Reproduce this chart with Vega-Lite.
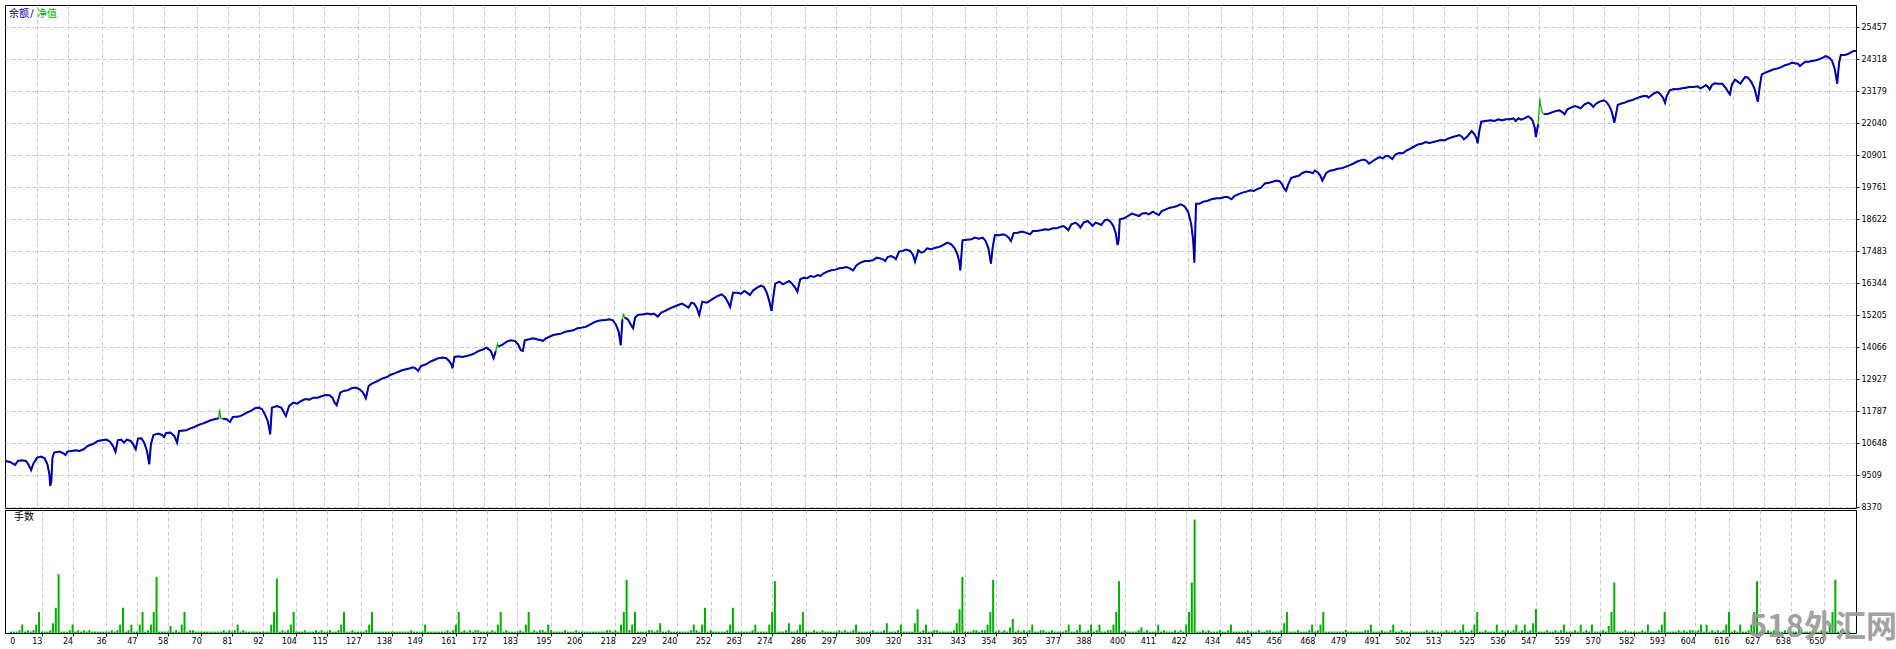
{
"$schema": "https://vega.github.io/schema/vega-lite/v6.json",
"background": "white",
"padding": {"left": 4, "top": 4, "right": 2, "bottom": 0},
"spacing": 2,
"bounds": "flush",
"config": {
  "view": {"stroke": "#000000", "strokeWidth": 1},
  "axis": {"labelFont": "DejaVu Sans", "labelFontSize": 8, "labelColor": "#000000", "tickColor": "#000000", "gridColor": "#c8c8c8", "gridDash": [4, 3], "gridWidth": 1, "domain": false, "title": null, "labelOverlap": false, "tickCount": 200}
},
"datasets": {
"eq": [
{"n":1.7,"b":10020,"e":10020},{"n":3.4,"b":9984,"e":9984},{"n":5.2,"b":9877,"e":9877},{"n":6.2,"b":10020,"e":10020},{"n":7.6,"b":10043,"e":10043},{"n":9.1,"b":10020,"e":10020},{"n":9.9,"b":9901,"e":9901},{"n":10.9,"b":9696,"e":9696},{"n":11.7,"b":9925,"e":9925},{"n":13.1,"b":10138,"e":10138},{"n":14.5,"b":10174,"e":10174},{"n":15.7,"b":10115,"e":10115},{"n":16.7,"b":9901,"e":9901},{"n":17.4,"b":9545,"e":9545},{"n":17.7,"b":9130,"e":9130},{"n":18.1,"b":9308,"e":9308},{"n":18.5,"b":10138,"e":10138},{"n":19.1,"b":10316,"e":10316},{"n":21.0,"b":10352,"e":10352},{"n":22.4,"b":10293,"e":10293},{"n":23.1,"b":10233,"e":10233},{"n":23.8,"b":10352,"e":10352},{"n":25.3,"b":10375,"e":10375},{"n":26.7,"b":10399,"e":10399},{"n":28.1,"b":10375,"e":10375},{"n":29.6,"b":10435,"e":10435},{"n":31.0,"b":10553,"e":10553},{"n":33.2,"b":10637,"e":10637},{"n":34.6,"b":10732,"e":10732},{"n":36.0,"b":10755,"e":10755},{"n":37.7,"b":10779,"e":10779},{"n":38.9,"b":10708,"e":10708},{"n":40.0,"b":10553,"e":10553},{"n":40.9,"b":10340,"e":10340},{"n":41.7,"b":10755,"e":10755},{"n":42.9,"b":10779,"e":10779},{"n":43.9,"b":10672,"e":10672},{"n":44.9,"b":10779,"e":10779},{"n":46.3,"b":10732,"e":10732},{"n":47.2,"b":10613,"e":10613},{"n":48.1,"b":10435,"e":10435},{"n":48.9,"b":10815,"e":10815},{"n":50.1,"b":10826,"e":10826},{"n":51.1,"b":10672,"e":10672},{"n":52.1,"b":10375,"e":10375},{"n":52.6,"b":10079,"e":10079},{"n":52.9,"b":9901,"e":9901},{"n":53.5,"b":10613,"e":10613},{"n":54.4,"b":10945,"e":10945},{"n":56.1,"b":10992,"e":10992},{"n":57.5,"b":10945,"e":10945},{"n":58.2,"b":10874,"e":10874},{"n":58.9,"b":11016,"e":11016},{"n":60.4,"b":11028,"e":11028},{"n":61.8,"b":10910,"e":10910},{"n":62.8,"b":10672,"e":10672},{"n":63.5,"b":11087,"e":11087},{"n":66.1,"b":11111,"e":11111},{"n":67.5,"b":11182,"e":11182},{"n":69.0,"b":11230,"e":11230},{"n":70.4,"b":11301,"e":11301},{"n":71.8,"b":11348,"e":11348},{"n":73.3,"b":11408,"e":11408},{"n":74.7,"b":11467,"e":11467},{"n":76.1,"b":11503,"e":11503},{"n":77.6,"b":11539,"e":11539},{"n":77.9,"e":11860},{"n":78.3,"e":11533},{"n":79.0,"b":11527,"e":11527},{"n":80.4,"b":11503,"e":11503},{"n":81.6,"b":11408,"e":11408},{"n":82.6,"b":11586,"e":11586},{"n":84.7,"b":11598,"e":11598},{"n":86.2,"b":11657,"e":11657},{"n":87.6,"b":11740,"e":11740},{"n":89.0,"b":11800,"e":11800},{"n":90.5,"b":11894,"e":11894},{"n":91.9,"b":11918,"e":11918},{"n":93.0,"b":11859,"e":11859},{"n":94.0,"b":11681,"e":11681},{"n":95.0,"b":11443,"e":11443},{"n":95.5,"b":11206,"e":11206},{"n":95.9,"b":10969,"e":10969},{"n":96.5,"b":11918,"e":11918},{"n":98.3,"b":11977,"e":11977},{"n":99.8,"b":11918,"e":11918},{"n":100.5,"b":11800,"e":11800},{"n":101.5,"b":11622,"e":11622},{"n":102.6,"b":11977,"e":11977},{"n":104.1,"b":12096,"e":12096},{"n":105.5,"b":12060,"e":12060},{"n":106.9,"b":12155,"e":12155},{"n":108.4,"b":12226,"e":12226},{"n":109.8,"b":12202,"e":12202},{"n":111.2,"b":12274,"e":12274},{"n":112.7,"b":12274,"e":12274},{"n":114.1,"b":12321,"e":12321},{"n":115.5,"b":12369,"e":12369},{"n":117.0,"b":12357,"e":12357},{"n":118.0,"b":12274,"e":12274},{"n":118.8,"b":12096,"e":12096},{"n":119.5,"b":12001,"e":12001},{"n":120.8,"b":12452,"e":12452},{"n":122.0,"b":12511,"e":12511},{"n":123.4,"b":12535,"e":12535},{"n":124.8,"b":12606,"e":12606},{"n":126.3,"b":12630,"e":12630},{"n":127.7,"b":12571,"e":12571},{"n":128.9,"b":12452,"e":12452},{"n":129.9,"b":12250,"e":12250},{"n":130.9,"b":12689,"e":12689},{"n":132.0,"b":12772,"e":12772},{"n":134.2,"b":12867,"e":12867},{"n":135.6,"b":12950,"e":12950},{"n":137.5,"b":13010,"e":13010},{"n":138.5,"b":13081,"e":13081},{"n":139.9,"b":13128,"e":13128},{"n":141.3,"b":13188,"e":13188},{"n":142.8,"b":13247,"e":13247},{"n":144.2,"b":13283,"e":13283},{"n":145.6,"b":13318,"e":13318},{"n":146.6,"b":13354,"e":13354},{"n":147.5,"b":13318,"e":13318},{"n":148.5,"b":13223,"e":13223},{"n":149.5,"b":13401,"e":13401},{"n":151.3,"b":13461,"e":13461},{"n":152.8,"b":13556,"e":13556},{"n":154.2,"b":13615,"e":13615},{"n":155.6,"b":13674,"e":13674},{"n":157.1,"b":13698,"e":13698},{"n":158.5,"b":13674,"e":13674},{"n":159.5,"b":13579,"e":13579},{"n":160.4,"b":13437,"e":13437},{"n":160.7,"b":13318,"e":13318},{"n":161.4,"b":13722,"e":13722},{"n":162.8,"b":13745,"e":13745},{"n":164.2,"b":13722,"e":13722},{"n":165.7,"b":13757,"e":13757},{"n":167.1,"b":13793,"e":13793},{"n":168.5,"b":13852,"e":13852},{"n":170.0,"b":13935,"e":13935},{"n":171.4,"b":13983,"e":13983},{"n":172.8,"b":14054,"e":14054},{"n":174.3,"b":13935,"e":13935},{"n":175.3,"b":13674,"e":13674},{"n":176.1,"b":13935,"e":13935},{"n":176.7,"e":14190},{"n":177.1,"b":14089,"e":14089},{"n":178.6,"b":14172,"e":14172},{"n":180.0,"b":14267,"e":14267},{"n":181.4,"b":14315,"e":14315},{"n":182.9,"b":14291,"e":14291},{"n":184.0,"b":14172,"e":14172},{"n":185.0,"b":13959,"e":13959},{"n":185.7,"b":13935,"e":13935},{"n":186.4,"b":14315,"e":14315},{"n":187.9,"b":14350,"e":14350},{"n":189.3,"b":14386,"e":14386},{"n":190.7,"b":14350,"e":14350},{"n":192.2,"b":14315,"e":14315},{"n":192.9,"b":14291,"e":14291},{"n":193.9,"b":14386,"e":14386},{"n":195.0,"b":14433,"e":14433},{"n":196.5,"b":14504,"e":14504},{"n":197.9,"b":14528,"e":14528},{"n":199.3,"b":14552,"e":14552},{"n":200.8,"b":14623,"e":14623},{"n":202.2,"b":14647,"e":14647},{"n":203.6,"b":14671,"e":14671},{"n":205.1,"b":14742,"e":14742},{"n":206.5,"b":14766,"e":14766},{"n":207.9,"b":14789,"e":14789},{"n":209.4,"b":14861,"e":14861},{"n":210.8,"b":14944,"e":14944},{"n":212.2,"b":15003,"e":15003},{"n":213.7,"b":15027,"e":15027},{"n":215.1,"b":15039,"e":15039},{"n":216.5,"b":15062,"e":15062},{"n":217.7,"b":15027,"e":15027},{"n":218.7,"b":14884,"e":14884},{"n":219.7,"b":14647,"e":14647},{"n":220.3,"b":14291,"e":14291},{"n":220.5,"b":14137,"e":14137},{"n":221.1,"b":15062,"e":15062},{"n":221.5,"e":15264},{"n":221.9,"b":15122,"e":15122},{"n":223.0,"b":15062,"e":15062},{"n":224.0,"b":14884,"e":14884},
{"n":224.9,"b":14742,"e":14742},{"n":225.6,"b":15122,"e":15122},{"n":226.6,"b":15216,"e":15216},{"n":228.4,"b":15240,"e":15240},{"n":229.9,"b":15264,"e":15264},{"n":231.3,"b":15240,"e":15240},{"n":232.3,"b":15264,"e":15264},{"n":233.7,"b":15157,"e":15157},{"n":234.9,"b":15300,"e":15300},{"n":236.3,"b":15359,"e":15359},{"n":237.8,"b":15442,"e":15442},{"n":239.2,"b":15501,"e":15501},{"n":240.9,"b":15572,"e":15572},{"n":242.3,"b":15620,"e":15620},{"n":243.5,"b":15549,"e":15549},{"n":244.6,"b":15477,"e":15477},{"n":245.6,"b":15655,"e":15655},{"n":246.6,"b":15620,"e":15620},{"n":247.5,"b":15477,"e":15477},{"n":248.4,"b":15216,"e":15216},{"n":249.5,"b":15691,"e":15691},{"n":251.0,"b":15655,"e":15655},{"n":252.1,"b":15715,"e":15715},{"n":253.5,"b":15810,"e":15810},{"n":255.0,"b":15893,"e":15893},{"n":256.4,"b":15952,"e":15952},{"n":257.5,"b":15857,"e":15857},{"n":258.5,"b":15691,"e":15691},{"n":259.4,"b":15501,"e":15501},{"n":260.4,"b":16011,"e":16011},{"n":261.8,"b":16011,"e":16011},{"n":263.3,"b":15976,"e":15976},{"n":264.4,"b":16071,"e":16071},{"n":265.4,"b":16011,"e":16011},{"n":266.4,"b":15928,"e":15928},{"n":267.6,"b":16094,"e":16094},{"n":269.0,"b":16189,"e":16189},{"n":270.4,"b":16261,"e":16261},{"n":271.4,"b":16213,"e":16213},{"n":272.4,"b":16011,"e":16011},{"n":273.3,"b":15715,"e":15715},{"n":274.1,"b":15359,"e":15359},{"n":274.7,"b":15833,"e":15833},{"n":275.4,"b":16332,"e":16332},{"n":276.9,"b":16403,"e":16403},{"n":278.2,"b":16308,"e":16308},{"n":279.3,"b":16367,"e":16367},{"n":280.4,"b":16427,"e":16427},{"n":281.4,"b":16332,"e":16332},{"n":282.5,"b":16189,"e":16189},{"n":283.3,"b":16047,"e":16047},{"n":284.3,"b":16486,"e":16486},{"n":285.7,"b":16545,"e":16545},{"n":286.8,"b":16522,"e":16522},{"n":287.9,"b":16605,"e":16605},{"n":289.3,"b":16569,"e":16569},{"n":290.5,"b":16640,"e":16640},{"n":291.5,"b":16605,"e":16605},{"n":292.5,"b":16688,"e":16688},{"n":293.9,"b":16759,"e":16759},{"n":295.3,"b":16806,"e":16806},{"n":296.8,"b":16830,"e":16830},{"n":298.2,"b":16878,"e":16878},{"n":299.6,"b":16901,"e":16901},{"n":300.8,"b":16925,"e":16925},{"n":301.9,"b":16878,"e":16878},{"n":303.1,"b":16806,"e":16806},{"n":304.4,"b":16996,"e":16996},{"n":305.8,"b":17079,"e":17079},{"n":307.2,"b":17139,"e":17139},{"n":308.7,"b":17139,"e":17139},{"n":310.1,"b":17162,"e":17162},{"n":311.5,"b":17257,"e":17257},{"n":312.5,"b":17234,"e":17234},{"n":313.7,"b":17198,"e":17198},{"n":314.5,"b":17139,"e":17139},{"n":315.4,"b":17281,"e":17281},{"n":316.6,"b":17317,"e":17317},{"n":317.7,"b":17257,"e":17257},{"n":318.3,"b":17198,"e":17198},{"n":319.4,"b":17471,"e":17471},{"n":320.6,"b":17495,"e":17495},{"n":322.0,"b":17542,"e":17542},{"n":323.4,"b":17495,"e":17495},{"n":324.4,"b":17352,"e":17352},{"n":325.1,"b":17115,"e":17115},{"n":326.3,"b":17518,"e":17518},{"n":327.3,"b":17435,"e":17435},{"n":328.3,"b":17471,"e":17471},{"n":329.4,"b":17590,"e":17590},{"n":330.9,"b":17554,"e":17554},{"n":332.3,"b":17613,"e":17613},{"n":333.7,"b":17637,"e":17637},{"n":335.2,"b":17708,"e":17708},{"n":336.6,"b":17791,"e":17791},{"n":338.0,"b":17732,"e":17732},{"n":339.2,"b":17590,"e":17590},{"n":340.2,"b":17376,"e":17376},{"n":340.9,"b":17079,"e":17079},{"n":341.2,"b":16806,"e":16806},{"n":342.0,"b":17874,"e":17874},{"n":343.5,"b":17898,"e":17898},{"n":345.2,"b":17910,"e":17910},{"n":346.3,"b":17969,"e":17969},{"n":347.8,"b":17934,"e":17934},{"n":349.2,"b":17969,"e":17969},{"n":350.2,"b":17851,"e":17851},{"n":351.2,"b":17590,"e":17590},{"n":352.1,"b":17044,"e":17044},{"n":352.7,"b":17613,"e":17613},{"n":353.5,"b":18064,"e":18064},{"n":355.0,"b":18052,"e":18052},{"n":356.4,"b":18088,"e":18088},{"n":357.4,"b":18052,"e":18052},{"n":358.4,"b":17969,"e":17969},{"n":359.2,"b":17851,"e":17851},{"n":360.2,"b":18135,"e":18135},{"n":361.7,"b":18147,"e":18147},{"n":363.1,"b":18183,"e":18183},{"n":364.5,"b":18147,"e":18147},{"n":366.0,"b":18088,"e":18088},{"n":367.0,"b":18206,"e":18206},{"n":368.4,"b":18206,"e":18206},{"n":369.8,"b":18230,"e":18230},{"n":371.3,"b":18266,"e":18266},{"n":372.7,"b":18254,"e":18254},{"n":374.1,"b":18301,"e":18301},{"n":375.3,"b":18301,"e":18301},{"n":376.7,"b":18349,"e":18349},{"n":377.9,"b":18384,"e":18384},{"n":378.9,"b":18301,"e":18301},{"n":379.6,"b":18230,"e":18230},{"n":380.7,"b":18444,"e":18444},{"n":382.2,"b":18503,"e":18503},{"n":383.2,"b":18420,"e":18420},{"n":383.9,"b":18325,"e":18325},{"n":385.0,"b":18503,"e":18503},{"n":386.5,"b":18562,"e":18562},{"n":387.5,"b":18467,"e":18467},{"n":388.2,"b":18384,"e":18384},{"n":389.3,"b":18503,"e":18503},{"n":390.3,"b":18467,"e":18467},{"n":391.3,"b":18420,"e":18420},{"n":392.5,"b":18586,"e":18586},{"n":393.6,"b":18610,"e":18610},{"n":394.6,"b":18539,"e":18539},{"n":395.6,"b":18384,"e":18384},{"n":396.5,"b":18112,"e":18112},{"n":397.1,"b":17708,"e":17708},{"n":397.5,"b":17874,"e":17874},{"n":397.9,"b":18622,"e":18622},{"n":399.4,"b":18657,"e":18657},{"n":400.8,"b":18740,"e":18740},{"n":402.2,"b":18823,"e":18823},{"n":403.7,"b":18776,"e":18776},{"n":404.7,"b":18740,"e":18740},{"n":405.7,"b":18823,"e":18823},{"n":407.1,"b":18847,"e":18847},{"n":408.2,"b":18800,"e":18800},{"n":409.7,"b":18895,"e":18895},{"n":410.8,"b":18823,"e":18823},{"n":411.8,"b":18776,"e":18776},{"n":412.8,"b":18918,"e":18918},{"n":414.3,"b":18978,"e":18978},{"n":415.7,"b":19037,"e":19037},{"n":417.1,"b":19061,"e":19061},{"n":418.3,"b":19096,"e":19096},{"n":419.3,"b":19156,"e":19156},{"n":420.1,"b":19132,"e":19132},{"n":421.1,"b":19061,"e":19061},{"n":422.3,"b":18859,"e":18859},{"n":423.3,"b":18444,"e":18444},{"n":424.0,"b":17851,"e":17851},{"n":424.4,"b":17079,"e":17079},{"n":425.0,"b":19179,"e":19179},{"n":426.2,"b":19179,"e":19179},{"n":427.6,"b":19251,"e":19251},{"n":429.0,"b":19274,"e":19274},{"n":430.4,"b":19334,"e":19334},{"n":432.3,"b":19369,"e":19369},{"n":433.7,"b":19369,"e":19369},{"n":435.2,"b":19417,"e":19417},{"n":436.3,"b":19417,"e":19417},{"n":437.6,"b":19334,"e":19334},{"n":438.6,"b":19452,"e":19452},{"n":440.0,"b":19512,"e":19512},{"n":441.5,"b":19571,"e":19571},{"n":442.9,"b":19607,"e":19607},{"n":444.3,"b":19654,"e":19654},{"n":445.5,"b":19630,"e":19630},{"n":446.6,"b":19690,"e":19690},{"n":448.1,"b":19749,"e":19749},
{"n":449.5,"b":19900,"e":19900},{"n":450.9,"b":19920,"e":19920},{"n":452.2,"b":19960,"e":19960},{"n":453.6,"b":20000,"e":20000},{"n":454.7,"b":19980,"e":19980},{"n":455.6,"b":19870,"e":19870},{"n":456.3,"b":19720,"e":19720},{"n":457.0,"b":19640,"e":19640},{"n":457.7,"b":19850,"e":19850},{"n":458.8,"b":20090,"e":20090},{"n":460.1,"b":20140,"e":20140},{"n":461.5,"b":20170,"e":20170},{"n":462.8,"b":20270,"e":20270},{"n":464.2,"b":20320,"e":20320},{"n":465.6,"b":20300,"e":20300},{"n":466.5,"b":20260,"e":20260},{"n":467.2,"b":20360,"e":20360},{"n":468.3,"b":20290,"e":20290},{"n":469.2,"b":20170,"e":20170},{"n":469.9,"b":20000,"e":20000},{"n":471.3,"b":20270,"e":20270},{"n":472.6,"b":20350,"e":20350},{"n":474.0,"b":20380,"e":20380},{"n":475.3,"b":20420,"e":20420},{"n":476.7,"b":20440,"e":20440},{"n":478.1,"b":20490,"e":20490},{"n":479.4,"b":20540,"e":20540},{"n":480.8,"b":20600,"e":20600},{"n":482.1,"b":20670,"e":20670},{"n":483.5,"b":20720,"e":20720},{"n":484.6,"b":20750,"e":20750},{"n":485.5,"b":20715,"e":20715},{"n":486.5,"b":20600,"e":20600},{"n":487.3,"b":20660,"e":20660},{"n":488.3,"b":20725,"e":20725},{"n":489.2,"b":20785,"e":20785},{"n":490.3,"b":20835,"e":20835},{"n":491.4,"b":20790,"e":20790},{"n":492.4,"b":20875,"e":20875},{"n":493.3,"b":20880,"e":20880},{"n":494.1,"b":20820,"e":20820},{"n":494.8,"b":20765,"e":20765},{"n":495.8,"b":20920,"e":20920},{"n":497.1,"b":20980,"e":20980},{"n":498.5,"b":20972,"e":20972},{"n":499.8,"b":21068,"e":21068},{"n":501.2,"b":21142,"e":21142},{"n":502.6,"b":21214,"e":21214},{"n":503.9,"b":21286,"e":21286},{"n":505.3,"b":21311,"e":21311},{"n":506.6,"b":21371,"e":21371},{"n":508.0,"b":21336,"e":21336},{"n":509.4,"b":21373,"e":21373},{"n":510.7,"b":21410,"e":21410},{"n":512.1,"b":21445,"e":21445},{"n":513.4,"b":21433,"e":21433},{"n":514.8,"b":21504,"e":21504},{"n":516.2,"b":21552,"e":21552},{"n":517.5,"b":21588,"e":21588},{"n":518.6,"b":21623,"e":21623},{"n":519.6,"b":21552,"e":21552},{"n":520.2,"b":21469,"e":21469},{"n":520.9,"b":21528,"e":21528},{"n":521.6,"b":21588,"e":21588},{"n":523.0,"b":21766,"e":21766},{"n":524.0,"b":21647,"e":21647},{"n":524.7,"b":21504,"e":21504},{"n":525.1,"b":21327,"e":21327},{"n":525.7,"b":21766,"e":21766},{"n":526.4,"b":22098,"e":22098},{"n":527.7,"b":22122,"e":22122},{"n":529.8,"b":22145,"e":22145},{"n":531.1,"b":22122,"e":22122},{"n":532.5,"b":22181,"e":22181},{"n":533.8,"b":22145,"e":22145},{"n":535.2,"b":22181,"e":22181},{"n":536.6,"b":22181,"e":22181},{"n":537.9,"b":22217,"e":22217},{"n":538.6,"b":22122,"e":22122},{"n":539.6,"b":22217,"e":22217},{"n":540.6,"b":22169,"e":22169},{"n":541.7,"b":22217,"e":22217},{"n":543.1,"b":22288,"e":22288},{"n":544.0,"b":22217,"e":22217},{"n":544.7,"b":22122,"e":22122},{"n":545.4,"b":21884,"e":21884},{"n":545.8,"b":21552,"e":21552},{"n":546.6,"b":22003,"e":22003},{"n":547.0,"e":22600},{"n":547.2,"e":22928},{"n":547.4,"b":22359,"e":22700},{"n":548.1,"e":22430},{"n":548.8,"b":22359,"e":22359},{"n":550.2,"b":22383,"e":22383},{"n":551.5,"b":22430,"e":22430},{"n":552.9,"b":22477,"e":22477},{"n":554.2,"b":22501,"e":22501},{"n":555.3,"b":22430,"e":22430},{"n":556.0,"b":22359,"e":22359},{"n":557.0,"b":22537,"e":22537},{"n":558.3,"b":22596,"e":22596},{"n":559.7,"b":22655,"e":22655},{"n":560.8,"b":22620,"e":22620},{"n":561.7,"b":22572,"e":22572},{"n":563.1,"b":22715,"e":22715},{"n":564.5,"b":22774,"e":22774},{"n":565.4,"b":22715,"e":22715},{"n":566.2,"b":22620,"e":22620},{"n":567.2,"b":22738,"e":22738},{"n":568.5,"b":22810,"e":22810},{"n":569.9,"b":22857,"e":22857},{"n":570.8,"b":22810,"e":22810},{"n":571.9,"b":22655,"e":22655},{"n":572.7,"b":22477,"e":22477},{"n":573.3,"b":22240,"e":22240},{"n":573.7,"b":22062,"e":22062},{"n":574.4,"b":22418,"e":22418},{"n":574.9,"b":22691,"e":22691},{"n":576.0,"b":22738,"e":22738},{"n":577.4,"b":22774,"e":22774},{"n":578.7,"b":22833,"e":22833},{"n":580.1,"b":22869,"e":22869},{"n":581.5,"b":22928,"e":22928},{"n":582.8,"b":22976,"e":22976},{"n":584.2,"b":23011,"e":23011},{"n":585.3,"b":23011,"e":23011},{"n":585.8,"b":22952,"e":22952},{"n":586.6,"b":23011,"e":23011},{"n":587.6,"b":23094,"e":23094},{"n":588.9,"b":23154,"e":23154},{"n":589.9,"b":23094,"e":23094},{"n":591.0,"b":22952,"e":22952},{"n":591.7,"b":22774,"e":22774},{"n":592.3,"b":23011,"e":23011},{"n":593.4,"b":23213,"e":23213},{"n":594.8,"b":23261,"e":23261},{"n":596.1,"b":23249,"e":23249},{"n":597.8,"b":23284,"e":23284},{"n":599.1,"b":23308,"e":23308},{"n":600.5,"b":23332,"e":23332},{"n":601.9,"b":23332,"e":23332},{"n":603.2,"b":23355,"e":23355},{"n":604.3,"b":23284,"e":23284},{"n":605.3,"b":23332,"e":23332},{"n":606.2,"b":23403,"e":23403},{"n":607.0,"b":23332,"e":23332},{"n":607.6,"b":23249,"e":23249},{"n":608.4,"b":23403,"e":23403},{"n":609.3,"b":23462,"e":23462},{"n":610.7,"b":23450,"e":23450},{"n":612.1,"b":23450,"e":23450},{"n":612.7,"b":23367,"e":23367},{"n":613.4,"b":23284,"e":23284},{"n":614.1,"b":23166,"e":23166},{"n":614.8,"b":23071,"e":23071},{"n":615.5,"b":23427,"e":23427},{"n":616.6,"b":23593,"e":23593},{"n":617.6,"b":23522,"e":23522},{"n":618.5,"b":23450,"e":23450},{"n":619.3,"b":23569,"e":23569},{"n":620.2,"b":23688,"e":23688},{"n":621.2,"b":23664,"e":23664},{"n":622.3,"b":23522,"e":23522},{"n":623.4,"b":23308,"e":23308},{"n":624.2,"b":23011,"e":23011},{"n":624.7,"b":22810,"e":22810},{"n":625.4,"b":23367,"e":23367},{"n":626.1,"b":23783,"e":23783},{"n":627.4,"b":23842,"e":23842},{"n":628.8,"b":23901,"e":23901},{"n":630.4,"b":23961,"e":23961},{"n":631.8,"b":23996,"e":23996},{"n":633.1,"b":24044,"e":24044},{"n":634.2,"b":24103,"e":24103},{"n":635.6,"b":24139,"e":24139},{"n":636.9,"b":24198,"e":24198},{"n":637.9,"b":24174,"e":24174},{"n":638.9,"b":24162,"e":24162},{"n":639.7,"b":24079,"e":24079},{"n":640.6,"b":24162,"e":24162},{"n":641.6,"b":24233,"e":24233},{"n":642.7,"b":24233,"e":24233},{"n":644.0,"b":24257,"e":24257},{"n":645.4,"b":24281,"e":24281},{"n":646.7,"b":24328,"e":24328},{"n":647.8,"b":24376,"e":24376},{"n":648.8,"b":24435,"e":24435},{"n":649.5,"b":24400,"e":24400},{"n":650.3,"b":24352,"e":24352},{"n":651.1,"b":24257,"e":24257},{"n":651.9,"b":24020,"e":24020},{"n":652.5,"b":23723,"e":23723},{"n":652.9,"b":23450,"e":23450},{"n":653.6,"b":24198,"e":24198},{"n":654.2,"b":24471,"e":24471},{"n":655.6,"b":24471,"e":24471},{"n":656.5,"b":24495,"e":24495},{"n":657.6,"b":24554,"e":24554},{"n":658.7,"b":24613,"e":24613},{"n":659.6,"b":24613,"e":24613}
],
"lots": [
{"n":2,"l":0.01},{"n":3,"l":0.01},{"n":4,"l":0.01},{"n":5,"l":0.02},{"n":6,"l":0.06},{"n":7,"l":0.01},{"n":8,"l":0.02},{"n":9,"l":0.01},{"n":10,"l":0.02},{"n":11,"l":0.06},{"n":12,"l":0.15},{"n":13,"l":0.01},{"n":14,"l":0.01},{"n":15,"l":0.01},{"n":16,"l":0.02},{"n":17,"l":0.07},{"n":18,"l":0.18},{"n":19,"l":0.42},{"n":20,"l":0.01},{"n":21,"l":0.01},{"n":22,"l":0.01},{"n":23,"l":0.02},{"n":24,"l":0.06},{"n":25,"l":0.01},{"n":26,"l":0.02},{"n":27,"l":0.01},{"n":28,"l":0.02},{"n":29,"l":0.01},{"n":30,"l":0.02},{"n":31,"l":0.01},{"n":32,"l":0.01},{"n":33,"l":0.01},{"n":34,"l":0.01},{"n":35,"l":0.01},{"n":36,"l":0.01},{"n":37,"l":0.01},{"n":38,"l":0.02},{"n":39,"l":0.01},{"n":40,"l":0.02},{"n":41,"l":0.06},{"n":42,"l":0.18},{"n":43,"l":0.01},{"n":44,"l":0.02},{"n":45,"l":0.06},{"n":46,"l":0.01},{"n":47,"l":0.01},{"n":48,"l":0.06},{"n":49,"l":0.15},{"n":50,"l":0.01},{"n":51,"l":0.02},{"n":52,"l":0.06},{"n":53,"l":0.15},{"n":54,"l":0.40},{"n":55,"l":0.01},{"n":56,"l":0.01},{"n":57,"l":0.01},{"n":58,"l":0.01},{"n":59,"l":0.05},{"n":60,"l":0.01},{"n":61,"l":0.02},{"n":62,"l":0.01},{"n":63,"l":0.06},{"n":64,"l":0.15},{"n":65,"l":0.01},{"n":66,"l":0.02},{"n":67,"l":0.02},{"n":68,"l":0.01},{"n":69,"l":0.01},{"n":70,"l":0.01},{"n":71,"l":0.01},{"n":72,"l":0.01},{"n":73,"l":0.01},{"n":74,"l":0.01},{"n":75,"l":0.01},{"n":76,"l":0.01},{"n":77,"l":0.01},{"n":78,"l":0.02},{"n":79,"l":0.01},{"n":80,"l":0.02},{"n":81,"l":0.01},{"n":82,"l":0.02},{"n":83,"l":0.06},{"n":84,"l":0.01},{"n":85,"l":0.02},{"n":86,"l":0.01},{"n":87,"l":0.01},{"n":88,"l":0.01},{"n":89,"l":0.01},{"n":90,"l":0.01},{"n":91,"l":0.01},{"n":92,"l":0.01},{"n":93,"l":0.01},{"n":94,"l":0.01},{"n":95,"l":0.06},{"n":96,"l":0.15},{"n":97,"l":0.39},{"n":98,"l":0.01},{"n":99,"l":0.02},{"n":100,"l":0.01},{"n":101,"l":0.02},{"n":102,"l":0.06},{"n":103,"l":0.15},{"n":104,"l":0.01},{"n":105,"l":0.01},{"n":106,"l":0.01},{"n":107,"l":0.02},{"n":108,"l":0.01},{"n":109,"l":0.01},{"n":110,"l":0.01},{"n":111,"l":0.02},{"n":112,"l":0.01},{"n":113,"l":0.02},{"n":114,"l":0.01},{"n":115,"l":0.01},{"n":116,"l":0.02},{"n":117,"l":0.01},{"n":118,"l":0.01},{"n":119,"l":0.02},{"n":120,"l":0.06},{"n":121,"l":0.15},{"n":122,"l":0.01},{"n":123,"l":0.01},{"n":124,"l":0.02},{"n":125,"l":0.01},{"n":126,"l":0.01},{"n":127,"l":0.01},{"n":128,"l":0.01},{"n":129,"l":0.02},{"n":130,"l":0.06},{"n":131,"l":0.15},{"n":132,"l":0.01},{"n":133,"l":0.01},{"n":134,"l":0.01},{"n":135,"l":0.01},{"n":136,"l":0.01},{"n":137,"l":0.01},{"n":138,"l":0.01},{"n":139,"l":0.01},{"n":140,"l":0.01},{"n":141,"l":0.01},{"n":142,"l":0.01},{"n":143,"l":0.01},{"n":144,"l":0.01},{"n":145,"l":0.02},{"n":146,"l":0.01},{"n":147,"l":0.01},{"n":148,"l":0.01},{"n":149,"l":0.01},{"n":150,"l":0.06},{"n":151,"l":0.01},{"n":152,"l":0.01},{"n":153,"l":0.01},{"n":154,"l":0.01},{"n":155,"l":0.01},{"n":156,"l":0.01},{"n":157,"l":0.01},{"n":158,"l":0.02},{"n":159,"l":0.01},{"n":160,"l":0.02},{"n":161,"l":0.06},{"n":162,"l":0.15},{"n":163,"l":0.01},{"n":164,"l":0.02},{"n":165,"l":0.01},{"n":166,"l":0.02},{"n":167,"l":0.01},{"n":168,"l":0.02},{"n":169,"l":0.02},{"n":170,"l":0.01},{"n":171,"l":0.01},{"n":172,"l":0.01},{"n":173,"l":0.01},{"n":174,"l":0.02},{"n":175,"l":0.01},{"n":176,"l":0.06},{"n":177,"l":0.15},{"n":178,"l":0.01},{"n":179,"l":0.02},{"n":180,"l":0.01},{"n":181,"l":0.01},{"n":182,"l":0.01},{"n":183,"l":0.01},{"n":184,"l":0.02},{"n":185,"l":0.01},{"n":186,"l":0.06},{"n":187,"l":0.15},{"n":188,"l":0.01},{"n":189,"l":0.02},{"n":190,"l":0.01},{"n":191,"l":0.02},{"n":192,"l":0.02},{"n":193,"l":0.01},{"n":194,"l":0.06},{"n":195,"l":0.02},{"n":196,"l":0.01},{"n":197,"l":0.01},{"n":198,"l":0.01},{"n":199,"l":0.01},{"n":200,"l":0.02},{"n":201,"l":0.01},{"n":202,"l":0.01},{"n":203,"l":0.01},{"n":204,"l":0.02},{"n":205,"l":0.01},{"n":206,"l":0.01},{"n":207,"l":0.01},{"n":208,"l":0.01},{"n":209,"l":0.01},{"n":210,"l":0.01},{"n":211,"l":0.01},{"n":212,"l":0.01},{"n":213,"l":0.01},{"n":214,"l":0.01},{"n":215,"l":0.02},{"n":216,"l":0.02},{"n":217,"l":0.01},{"n":218,"l":0.02},{"n":219,"l":0.01},{"n":220,"l":0.06},{"n":221,"l":0.15},{"n":222,"l":0.38},{"n":223,"l":0.02},{"n":224,"l":0.06},{"n":225,"l":0.15},{"n":226,"l":0.01},{"n":227,"l":0.01},{"n":228,"l":0.01},{"n":229,"l":0.01},{"n":230,"l":0.02},{"n":231,"l":0.02},{"n":232,"l":0.01},{"n":233,"l":0.02},{"n":234,"l":0.07},{"n":235,"l":0.01},{"n":236,"l":0.01},{"n":237,"l":0.02},{"n":238,"l":0.01},{"n":239,"l":0.01},{"n":240,"l":0.01},{"n":241,"l":0.01},{"n":242,"l":0.01},{"n":243,"l":0.01},{"n":244,"l":0.01},{"n":245,"l":0.02},{"n":246,"l":0.06},{"n":247,"l":0.02},{"n":248,"l":0.01},{"n":249,"l":0.06},{"n":250,"l":0.18},{"n":251,"l":0.01},{"n":252,"l":0.02},{"n":253,"l":0.01},{"n":254,"l":0.01},{"n":255,"l":0.01},{"n":256,"l":0.01},{"n":257,"l":0.01},{"n":258,"l":0.02},{"n":259,"l":0.06},{"n":260,"l":0.18},{"n":261,"l":0.01},{"n":262,"l":0.01},{"n":263,"l":0.01},{"n":264,"l":0.01},{"n":265,"l":0.01},{"n":266,"l":0.01},{"n":267,"l":0.02},{"n":268,"l":0.06},{"n":269,"l":0.01},{"n":270,"l":0.01},{"n":271,"l":0.01},{"n":272,"l":0.01},{"n":273,"l":0.06},{"n":274,"l":0.15},{"n":275,"l":0.37},{"n":276,"l":0.01},{"n":277,"l":0.01},{"n":278,"l":0.01},{"n":279,"l":0.02},{"n":280,"l":0.07},{"n":281,"l":0.01},{"n":282,"l":0.01},{"n":283,"l":0.02},{"n":284,"l":0.06},{"n":285,"l":0.15},{"n":286,"l":0.01},{"n":287,"l":0.01},{"n":288,"l":0.01},{"n":289,"l":0.02},{"n":290,"l":0.01},{"n":291,"l":0.01},{"n":292,"l":0.02},{"n":293,"l":0.01},{"n":294,"l":0.01},{"n":295,"l":0.01},{"n":296,"l":0.01},{"n":297,"l":0.01},{"n":298,"l":0.02},{"n":299,"l":0.01},{"n":300,"l":0.02},{"n":301,"l":0.01},{"n":302,"l":0.01},{"n":303,"l":0.02},{"n":304,"l":0.06},{"n":305,"l":0.01},{"n":306,"l":0.01},{"n":307,"l":0.01},{"n":308,"l":0.01},{"n":309,"l":0.01},{"n":310,"l":0.02},{"n":311,"l":0.01},{"n":312,"l":0.01},{"n":313,"l":0.01},{"n":314,"l":0.02},{"n":315,"l":0.07},{"n":316,"l":0.01},{"n":317,"l":0.01},{"n":318,"l":0.01},{"n":319,"l":0.02},{"n":320,"l":0.06},{"n":321,"l":0.01},{"n":322,"l":0.01},{"n":323,"l":0.01},{"n":324,"l":0.01},{"n":325,"l":0.07},{"n":326,"l":0.17},{"n":327,"l":0.01},{"n":328,"l":0.02},{"n":329,"l":0.06},{"n":330,"l":0.01},{"n":331,"l":0.01},{"n":332,"l":0.02},{"n":333,"l":0.02},{"n":334,"l":0.01},{"n":335,"l":0.01},{"n":336,"l":0.01},{"n":337,"l":0.01},{"n":338,"l":0.01},{"n":339,"l":0.02},{"n":340,"l":0.07},{"n":341,"l":0.17},{"n":342,"l":0.40},{"n":343,"l":0.01},{"n":344,"l":0.01},{"n":345,"l":0.01},{"n":346,"l":0.02},{"n":347,"l":0.02},{"n":348,"l":0.01},{"n":349,"l":0.02},{"n":350,"l":0.02},{"n":351,"l":0.06},{"n":352,"l":0.15},{"n":353,"l":0.38},{"n":354,"l":0.01},{"n":355,"l":0.02},{"n":356,"l":0.01},{"n":357,"l":0.02},{"n":358,"l":0.01},{"n":359,"l":0.04},{"n":360,"l":0.10},{"n":361,"l":0.01},{"n":362,"l":0.02},{"n":363,"l":0.01},{"n":364,"l":0.02},{"n":365,"l":0.01},{"n":366,"l":0.02},{"n":367,"l":0.06},{"n":368,"l":0.01},{"n":369,"l":0.01},{"n":370,"l":0.02},{"n":371,"l":0.02},{"n":372,"l":0.01},{"n":373,"l":0.01},{"n":374,"l":0.02},{"n":375,"l":0.01},{"n":376,"l":0.01},{"n":377,"l":0.01},{"n":378,"l":0.01},{"n":379,"l":0.02},{"n":380,"l":0.06},{"n":381,"l":0.01},{"n":382,"l":0.01},{"n":383,"l":0.02},{"n":384,"l":0.06},{"n":385,"l":0.01},{"n":386,"l":0.01},{"n":387,"l":0.02},{"n":388,"l":0.06},{"n":389,"l":0.01},{"n":390,"l":0.02},{"n":391,"l":0.06},{"n":392,"l":0.01},{"n":393,"l":0.01},{"n":394,"l":0.02},{"n":395,"l":0.02},{"n":396,"l":0.06},{"n":397,"l":0.15},{"n":398,"l":0.37},{"n":399,"l":0.01},{"n":400,"l":0.02},{"n":401,"l":0.01},{"n":402,"l":0.01},{"n":403,"l":0.01},{"n":404,"l":0.01},{"n":405,"l":0.02},{"n":406,"l":0.04},{"n":407,"l":0.01},{"n":408,"l":0.02},{"n":409,"l":0.01},{"n":410,"l":0.01},{"n":411,"l":0.01},{"n":412,"l":0.06},{"n":413,"l":0.01},{"n":414,"l":0.02},{"n":415,"l":0.01},{"n":416,"l":0.01},{"n":417,"l":0.01},{"n":418,"l":0.02},{"n":419,"l":0.01},{"n":420,"l":0.02},{"n":421,"l":0.01},{"n":422,"l":0.06},{"n":423,"l":0.15},{"n":424,"l":0.36},{"n":425,"l":0.81},{"n":426,"l":0.01},{"n":427,"l":0.01},{"n":428,"l":0.02},{"n":429,"l":0.01},{"n":430,"l":0.02},{"n":431,"l":0.01},{"n":432,"l":0.01},{"n":433,"l":0.01},{"n":434,"l":0.02},{"n":435,"l":0.01},{"n":436,"l":0.01},{"n":437,"l":0.02},{"n":438,"l":0.06},{"n":439,"l":0.01},{"n":440,"l":0.01},{"n":441,"l":0.01},{"n":442,"l":0.01},{"n":443,"l":0.01},{"n":444,"l":0.02},{"n":445,"l":0.01},{"n":446,"l":0.01},{"n":447,"l":0.01},{"n":448,"l":0.02},{"n":449,"l":0.01},{"n":450,"l":0.01},{"n":451,"l":0.02},{"n":452,"l":0.02},{"n":453,"l":0.01},{"n":454,"l":0.01},{"n":455,"l":0.01},{"n":456,"l":0.02},{"n":457,"l":0.07},{"n":458,"l":0.15},{"n":459,"l":0.01},{"n":460,"l":0.01},{"n":461,"l":0.01},{"n":462,"l":0.02},{"n":463,"l":0.01},{"n":464,"l":0.01},{"n":465,"l":0.01},{"n":466,"l":0.02},{"n":467,"l":0.06},{"n":468,"l":0.01},{"n":469,"l":0.02},{"n":470,"l":0.06},{"n":471,"l":0.15},{"n":472,"l":0.01},{"n":473,"l":0.01},{"n":474,"l":0.01},{"n":475,"l":0.01},{"n":476,"l":0.01},{"n":477,"l":0.01},{"n":478,"l":0.01},{"n":479,"l":0.02},{"n":480,"l":0.01},{"n":481,"l":0.01},{"n":482,"l":0.01},{"n":483,"l":0.01},{"n":484,"l":0.01},{"n":485,"l":0.01},{"n":486,"l":0.02},{"n":487,"l":0.02},{"n":488,"l":0.06},{"n":489,"l":0.01},{"n":490,"l":0.01},{"n":491,"l":0.01},{"n":492,"l":0.02},{"n":493,"l":0.01},{"n":494,"l":0.01},{"n":495,"l":0.02},{"n":496,"l":0.06},{"n":497,"l":0.01},{"n":498,"l":0.01},{"n":499,"l":0.02},{"n":500,"l":0.01},{"n":501,"l":0.01},{"n":502,"l":0.01},{"n":503,"l":0.01},{"n":504,"l":0.01},{"n":505,"l":0.01},{"n":506,"l":0.01},{"n":507,"l":0.01},{"n":508,"l":0.02},{"n":509,"l":0.01},{"n":510,"l":0.02},{"n":511,"l":0.01},{"n":512,"l":0.01},{"n":513,"l":0.01},{"n":514,"l":0.01},{"n":515,"l":0.02},{"n":516,"l":0.01},{"n":517,"l":0.01},{"n":518,"l":0.02},{"n":519,"l":0.01},{"n":520,"l":0.02},{"n":521,"l":0.06},{"n":522,"l":0.01},{"n":523,"l":0.01},{"n":524,"l":0.02},{"n":525,"l":0.06},{"n":526,"l":0.15},{"n":527,"l":0.01},{"n":528,"l":0.01},{"n":529,"l":0.02},{"n":530,"l":0.01},{"n":531,"l":0.01},{"n":532,"l":0.01},{"n":533,"l":0.06},{"n":534,"l":0.01},{"n":535,"l":0.02},{"n":536,"l":0.01},{"n":537,"l":0.02},{"n":538,"l":0.01},{"n":539,"l":0.02},{"n":540,"l":0.06},{"n":541,"l":0.01},{"n":542,"l":0.02},{"n":543,"l":0.06},{"n":544,"l":0.01},{"n":545,"l":0.02},{"n":546,"l":0.07},{"n":547,"l":0.17},{"n":548,"l":0.01},{"n":549,"l":0.01},{"n":550,"l":0.01},{"n":551,"l":0.02},{"n":552,"l":0.01},{"n":553,"l":0.01},{"n":554,"l":0.02},{"n":555,"l":0.01},{"n":556,"l":0.02},{"n":557,"l":0.06},{"n":558,"l":0.01},{"n":559,"l":0.01},{"n":560,"l":0.01},{"n":561,"l":0.02},{"n":562,"l":0.01},{"n":563,"l":0.06},{"n":564,"l":0.01},{"n":565,"l":0.02},{"n":566,"l":0.01},{"n":567,"l":0.06},{"n":568,"l":0.01},{"n":569,"l":0.01},{"n":570,"l":0.01},{"n":571,"l":0.02},{"n":572,"l":0.01},{"n":573,"l":0.05},{"n":574,"l":0.15},{"n":575,"l":0.36},{"n":576,"l":0.01},{"n":577,"l":0.01},{"n":578,"l":0.01},{"n":579,"l":0.02},{"n":580,"l":0.01},{"n":581,"l":0.01},{"n":582,"l":0.01},{"n":583,"l":0.01},{"n":584,"l":0.01},{"n":585,"l":0.02},{"n":586,"l":0.01},{"n":587,"l":0.06},{"n":588,"l":0.01},{"n":589,"l":0.01},{"n":590,"l":0.01},{"n":591,"l":0.02},{"n":592,"l":0.06},{"n":593,"l":0.15},{"n":594,"l":0.01},{"n":595,"l":0.01},{"n":596,"l":0.01},{"n":597,"l":0.01},{"n":598,"l":0.02},{"n":599,"l":0.01},{"n":600,"l":0.02},{"n":601,"l":0.01},{"n":602,"l":0.02},{"n":603,"l":0.02},{"n":604,"l":0.01},{"n":605,"l":0.02},{"n":606,"l":0.06},{"n":607,"l":0.01},{"n":608,"l":0.06},{"n":609,"l":0.01},{"n":610,"l":0.02},{"n":611,"l":0.01},{"n":612,"l":0.02},{"n":613,"l":0.01},{"n":614,"l":0.02},{"n":615,"l":0.06},{"n":616,"l":0.15},{"n":617,"l":0.01},{"n":618,"l":0.02},{"n":619,"l":0.01},{"n":620,"l":0.06},{"n":621,"l":0.01},{"n":622,"l":0.01},{"n":623,"l":0.02},{"n":624,"l":0.06},{"n":625,"l":0.15},{"n":626,"l":0.37},{"n":627,"l":0.01},{"n":628,"l":0.02},{"n":629,"l":0.01},{"n":630,"l":0.02},{"n":631,"l":0.01},{"n":632,"l":0.02},{"n":633,"l":0.01},{"n":634,"l":0.01},{"n":635,"l":0.01},{"n":636,"l":0.02},{"n":637,"l":0.01},{"n":638,"l":0.01},{"n":639,"l":0.01},{"n":640,"l":0.01},{"n":641,"l":0.06},{"n":642,"l":0.01},{"n":643,"l":0.01},{"n":644,"l":0.01},{"n":645,"l":0.01},{"n":646,"l":0.02},{"n":647,"l":0.01},{"n":648,"l":0.01},{"n":649,"l":0.02},{"n":650,"l":0.01},{"n":651,"l":0.01},{"n":652,"l":0.06},{"n":653,"l":0.15},{"n":654,"l":0.38},{"n":655,"l":0.01},{"n":656,"l":0.02},{"n":657,"l":0.01},{"n":658,"l":0.01},{"n":659,"l":0.01}
]
},
"vconcat": [
{
  "width": 1851,
  "height": 503,
  "layer": [
    {
      "data": {"name": "eq"},
      "mark": {"type": "line", "color": "#00b000", "strokeWidth": 1.2, "clip": true},
      "encoding": {
        "x": {"field": "n", "type": "quantitative", "scale": {"domain": [1.625, 659.6], "nice": false, "zero": false},
              "axis": {"values": [13,24,36,47,58,70,81,92,104,115,127,138,149,161,172,183,195,206,218,229,240,252,263,274,286,297,309,320,331,343,354,365,377,388,400,411,422,434,445,456,468,479,491,502,513,525,536,547,559,570,582,593,604,616,627,638,650], "tickCount": 200, "labels": false, "ticks": false, "grid": true, "labelPadding": 0, "minExtent": 0, "maxExtent": 0}},
        "y": {"field": "e", "type": "quantitative", "scale": {"domain": [8345, 26251], "nice": false, "zero": false},
              "axis": {"orient": "right", "values": [8370,9509,10648,11787,12927,14066,15205,16344,17483,18622,19761,20901,22040,23179,24318,25457], "tickCount": 200, "format": "d", "tickSize": 3, "labelPadding": 2, "labelBaseline": "middle", "labelOverlap": false, "grid": true}}
      }
    },
    {
      "data": {"name": "eq"},
      "mark": {"type": "line", "color": "#0000b4", "strokeWidth": 2, "clip": true},
      "encoding": {
        "x": {"field": "n", "type": "quantitative"},
        "y": {"field": "b", "type": "quantitative"}
      }
    },
    {
      "data": {"values": [{}]},
      "mark": {"type": "text", "text": "余额", "align": "left", "baseline": "middle", "font": "Noto Sans CJK SC", "fontSize": 10, "color": "#0000b4"},
      "encoding": {"x": {"datum": 3.05, "type": "quantitative"}, "y": {"datum": 25920, "type": "quantitative"}}
    },
    {
      "data": {"values": [{}]},
      "mark": {"type": "text", "text": "/", "align": "left", "baseline": "middle", "font": "DejaVu Sans", "fontSize": 10, "color": "#0000b4"},
      "encoding": {"x": {"datum": 10.6, "type": "quantitative"}, "y": {"datum": 25920, "type": "quantitative"}}
    },
    {
      "data": {"values": [{}]},
      "mark": {"type": "text", "text": "净值", "align": "left", "baseline": "middle", "font": "Noto Sans CJK SC", "fontSize": 10, "color": "#00b000"},
      "encoding": {"x": {"datum": 13.0, "type": "quantitative"}, "y": {"datum": 25920, "type": "quantitative"}}
    }
  ]
},
{
  "width": 1851,
  "height": 123,
  "layer": [
    {
      "data": {"name": "lots"},
      "mark": {"type": "bar", "color": "#00b000", "size": 2},
      "encoding": {
        "x": {"field": "n", "type": "quantitative", "scale": {"domain": [1.625, 659.6], "nice": false, "zero": false},
              "axis": {"values": [3.4,13,24,36,47,58,70,81,92,104,115,127,138,149,161,172,183,195,206,218,229,240,252,263,274,286,297,309,320,331,343,354,365,377,388,400,411,422,434,445,456,468,479,491,502,513,525,536,547,559,570,582,593,604,616,627,638,650],
                       "tickCount": 200,
                       "labelExpr": "datum.value < 5 ? '0' : format(datum.value, 'd')", "labelFlush": false, "labelOverlap": false,
                       "labelAlign": "right",
                       "gridOpacity": {"condition": {"test": "datum.value < 5", "value": 0}, "value": 1},
                       "tickOpacity": {"condition": {"test": "datum.value < 5", "value": 0}, "value": 1},
                       "tickSize": 3, "labelPadding": 1, "grid": true}},
        "y": {"field": "l", "type": "quantitative", "scale": {"domain": [0, 0.878], "nice": false}, "axis": null}
      }
    },
    {
      "data": {"values": [{}]},
      "mark": {"type": "text", "text": "手数", "align": "left", "baseline": "middle", "font": "Noto Sans CJK SC", "fontSize": 10, "color": "#000000"},
      "encoding": {"x": {"datum": 3.05, "type": "quantitative"}, "y": {"datum": 0.825, "type": "quantitative"}}
    },
    {
      "data": {"values": [{}]},
      "mark": {"type": "text", "text": "518外汇网", "align": "center", "baseline": "middle", "font": "Noto Sans CJK SC", "fontSize": 31, "fontWeight": "bold", "color": "#999999", "opacity": 0.9},
      "encoding": {"x": {"datum": 649.6, "type": "quantitative"}, "y": {"datum": 0.035, "type": "quantitative"}}
    }
  ]
}
]
}
